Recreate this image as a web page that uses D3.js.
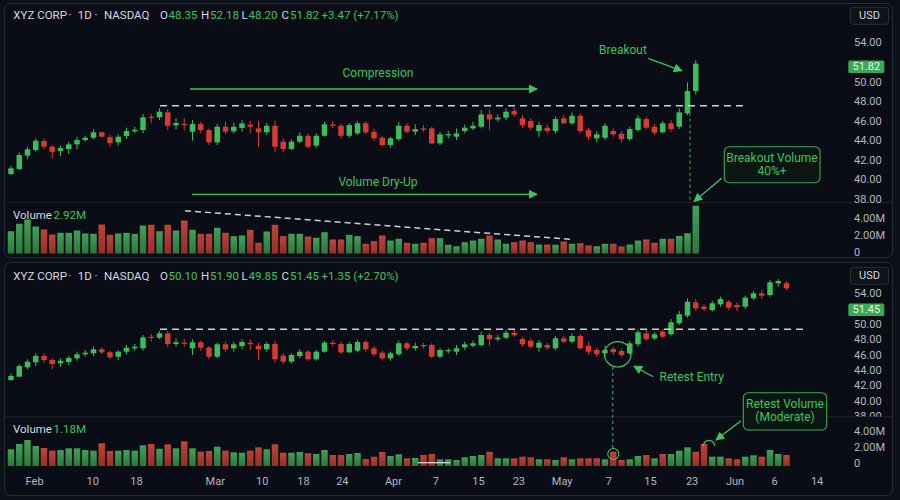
<!DOCTYPE html>
<html><head><meta charset="utf-8">
<script src="https://cdn.jsdelivr.net/npm/d3@7"></script>
<style>
body{margin:0;background:#0c1018;}
svg{display:block;font-family:Roboto,"Noto Sans",sans-serif;}
</style>
</head><body>
<svg id="c" width="900" height="500"></svg>
<script>
// ---------- DATA ----------
const topOpen  = [40.55,41.06,42.42,43.00,43.92,43.34,42.90,43.10,43.58,44.02,44.25,44.81,44.30,43.78,44.43,44.91,45.04,46.40,46.34,46.85,45.52,45.68,44.87,45.65,45.04,43.78,45.38,44.91,45.25,45.58,45.21,44.81,45.48,43.85,43.10,43.85,44.46,43.44,44.46,45.62,45.48,44.46,44.70,45.73,44.87,44.25,43.51,44.12,45.48,44.87,45.21,45.21,43.68,44.50,44.36,44.94,45.21,45.38,46.64,46.13,46.30,46.98,46.24,45.96,44.94,45.28,44.94,46.24,45.73,46.50,45.04,44.19,44.25,44.94,44.66,44.12,45.04,46.16,45.38,44.81,45.73,45.38,46.75,49.02];
const topHigh  = [41.40,42.76,43.33,44.19,44.19,43.51,43.44,43.85,44.36,44.43,45.11,44.87,44.56,44.60,45.28,45.38,46.67,46.67,47.26,47.19,46.24,46.24,46.06,45.89,45.21,45.65,45.89,45.79,46.06,46.00,46.00,45.79,46.00,44.19,44.09,44.81,44.70,44.70,45.89,45.96,45.73,45.73,45.96,45.96,45.21,44.46,44.36,45.89,45.73,45.62,45.55,45.38,44.87,44.94,45.21,45.62,45.89,47.08,47.08,46.64,47.26,47.32,46.57,46.24,45.89,45.62,46.40,46.57,46.85,46.75,45.28,44.94,45.73,45.21,44.94,45.38,46.57,46.40,45.62,45.96,46.06,47.26,49.91,52.18];
const topLow   = [40.44,40.95,42.05,42.82,43.07,42.15,42.39,42.59,43.07,43.85,44.09,44.29,43.34,43.44,44.12,44.70,44.70,45.72,46.06,45.04,45.11,45.04,43.95,44.70,43.51,43.51,44.60,44.70,44.87,44.70,43.27,44.53,42.76,42.76,43.00,43.68,43.17,43.23,44.36,45.21,44.19,44.25,44.53,44.60,43.92,43.34,43.23,43.92,44.70,44.53,44.81,43.58,43.51,44.19,44.02,44.70,45.04,45.21,45.04,45.89,46.06,46.40,45.28,45.04,44.36,44.70,44.70,45.62,45.55,44.70,44.02,43.78,44.02,44.36,43.78,43.92,44.87,45.14,44.53,44.70,44.87,45.14,46.57,48.69];
const topClose = [41.13,42.49,43.07,43.95,43.34,42.82,43.20,43.58,44.02,44.25,44.81,44.36,43.71,44.36,44.94,45.07,46.34,46.30,46.91,45.48,45.76,45.58,45.65,45.04,43.78,45.38,44.87,45.38,45.72,45.38,44.81,45.48,43.34,43.10,43.85,44.46,43.34,44.46,45.62,45.48,44.46,45.55,45.73,44.81,44.19,43.51,44.19,45.48,44.87,45.14,45.07,43.68,44.60,44.63,44.70,45.28,45.48,46.64,46.13,46.30,46.91,46.64,45.55,45.28,45.55,44.94,46.16,45.73,46.50,44.94,44.36,44.60,45.48,44.60,44.12,45.14,46.24,45.28,44.77,45.73,45.14,46.85,49.02,51.82];
const topVolume = [2.66,3.55,4.06,3.22,2.87,2.27,2.47,2.47,2.75,2.39,2.35,3.46,2.23,2.39,2.47,2.35,3.34,3.43,2.66,3.43,2.75,3.94,2.83,2.35,2.35,3.07,2.47,2.07,2.15,2.83,1.28,2.63,3.43,2.07,2.35,2.35,2.03,1.87,2.54,1.67,1.67,2.23,2.07,1.16,1.47,2.15,1.55,1.76,1.28,1.16,1.28,1.83,1.83,1.04,0.87,1.35,1.55,1.76,2.15,1.67,1.16,1.35,1.55,1.35,1.07,1.07,1.04,1.43,1.16,1.23,0.96,0.87,1.16,1.16,0.84,1.07,1.55,1.67,1.28,1.76,1.76,2.10,2.42,5.70];

const botOpen  = [42.69,43.12,44.34,44.99,45.81,45.29,44.86,45.03,45.51,46.03,46.16,46.68,46.29,45.72,46.37,46.81,46.81,48.32,48.19,48.76,47.37,47.54,46.81,47.59,46.89,45.72,47.33,46.81,47.11,47.54,47.15,46.68,47.37,45.85,45.07,45.81,46.37,45.38,46.37,47.54,47.37,46.29,46.50,47.63,46.81,46.24,45.51,46.03,47.46,46.81,47.24,47.24,45.72,46.46,46.37,46.94,47.15,47.24,48.54,47.98,48.19,48.84,48.02,47.80,46.89,47.24,46.81,48.11,47.67,48.41,47.15,46.59,46.16,46.72,46.46,46.16,47.33,48.76,48.11,48.97,48.63,50.06,51.05,52.79,52.22,51.79,52.53,52.87,52.44,52.22,53.31,53.96,53.74,55.26,55.26];
const botHigh  = [43.56,44.73,45.38,46.16,46.16,45.51,45.51,45.81,46.37,46.59,47.02,46.94,46.50,46.59,47.24,47.37,48.54,48.67,49.06,49.06,48.11,47.98,47.98,47.80,47.11,47.54,47.67,47.67,47.98,47.98,47.54,47.67,47.80,46.16,46.16,46.68,46.59,46.59,47.80,47.89,47.67,47.67,47.89,47.89,47.11,46.50,46.37,47.80,47.67,47.54,47.54,47.46,46.81,46.81,47.24,47.67,47.80,48.97,48.84,48.54,49.19,49.19,48.32,48.11,47.89,47.54,48.41,48.41,48.76,48.67,47.67,46.89,47.15,47.02,46.72,47.76,49.19,49.19,48.89,49.32,50.62,51.66,53.31,53.22,52.53,52.96,53.52,53.09,52.79,53.65,54.26,54.39,55.69,55.82,55.56];
const botLow   = [42.60,43.04,44.08,44.51,44.94,44.08,44.42,44.64,45.20,45.72,45.81,46.07,45.38,45.29,46.03,46.50,46.50,47.67,48.00,46.94,47.02,47.02,45.94,46.50,45.38,45.51,46.37,46.37,46.68,46.59,45.29,46.37,44.94,44.77,44.86,45.51,45.20,45.20,46.24,47.02,46.07,46.16,46.29,46.37,45.72,45.29,45.20,45.81,46.50,46.50,46.81,45.51,45.51,46.16,45.94,46.59,46.94,47.02,47.11,47.67,47.98,48.32,47.02,46.81,46.37,46.59,46.59,47.46,47.46,46.59,46.03,45.72,45.72,45.94,45.72,45.94,47.02,47.76,47.89,48.11,48.45,49.84,50.79,51.66,51.66,51.57,52.22,51.79,51.66,51.92,53.09,53.22,53.52,54.82,54.39];
const botClose = [43.21,44.51,45.07,45.81,45.29,44.77,45.20,45.55,46.03,46.24,46.68,46.29,45.64,46.37,46.89,47.02,48.24,48.19,48.76,47.37,47.59,47.41,47.59,46.89,45.72,47.33,46.68,47.33,47.63,47.33,46.68,47.37,45.38,45.07,45.94,46.37,45.38,46.37,47.54,47.37,46.29,47.37,47.63,46.68,46.03,45.51,46.16,47.46,46.81,47.11,47.07,45.72,46.59,46.59,46.81,47.33,47.46,48.54,48.02,48.19,48.84,48.50,47.33,47.02,47.54,46.89,48.11,47.67,48.41,46.81,46.37,46.03,46.59,46.29,45.94,47.46,48.89,48.02,48.63,48.32,50.19,51.23,52.87,52.01,51.92,52.66,53.22,52.09,52.14,53.39,53.96,53.65,55.39,55.56,54.61];
const botVolume = [2.05,2.70,3.19,2.45,2.21,1.88,1.96,2.17,2.17,1.96,1.88,2.79,1.84,1.88,1.96,1.88,2.54,2.70,2.12,2.66,2.17,3.03,2.17,1.75,1.84,2.37,1.88,1.68,1.63,1.88,2.29,2.05,2.66,1.63,1.63,1.72,1.56,1.47,1.96,1.35,1.35,1.47,1.60,0.86,1.14,1.72,1.23,1.44,0.94,0.98,1.35,1.47,0.82,0.82,0.74,1.07,1.23,1.35,1.75,0.94,0.94,0.94,1.14,1.07,0.82,0.82,0.74,1.07,0.82,0.94,0.94,0.94,0.82,1.75,0.74,0.82,1.23,1.35,0.94,1.47,1.47,1.88,2.29,1.75,2.70,1.14,1.14,0.94,0.82,1.14,1.31,1.14,1.96,1.47,1.35];

const dateLabels = ["Feb","10","18","Mar","10","18","24","Apr","7","15","23","May","7","15","23","Jun","6","14"];
const dateIdx    = [2.8,9.85,15.15,24.7,30.4,35.4,40.1,46.3,51.45,56.6,61.5,66.75,72.4,77.45,82.5,87.7,92.5,97.65];
const topPriceTicks = [54,50,48,46,44,42,40,38];
const botPriceTicks = [54,50,48,46,44,42,40,38];
const volTicks = [0,2,4];
const headerNames = ["XYZ CORP","·","1D","·","NASDAQ"];
const topHeaderVals = ["48.35","52.18","48.20","51.82","+3.47 (+7.17%)"];
const botHeaderVals = ["50.10","51.90","49.85","51.45","+1.35 (+2.70%)"];
const topVolLabel = "2.92M", botVolLabel = "1.18M";
const topLast = "51.82", botLast = "51.45";
const topResistance = 47.52, botResistance = 49.28;

// ---------- SETUP ----------
const svg = d3.select("#c");
const GREEN = "#3dbd5a", RED = "#d53b31", TXT = "#d6d9e0", AX = "#b4b7c0", ANN = "#3fc45d";
const xS = d3.scaleLinear().domain([0, 94]).range([11, 786.5]);
const yTop = d3.scaleLinear().domain([38, 54]).range([199, 42.3]);
const vTop = d3.scaleLinear().domain([0, 4]).range([253.5, 220]);
const yBot = d3.scaleLinear().domain([40, 54]).range([400.7, 293]);
const vBot = d3.scaleLinear().domain([0, 4]).range([466, 433.4]);

const defs = svg.append("defs");
function grad(id, c1, c2){
  const g = defs.append("linearGradient").attr("id", id).attr("x1",0).attr("y1",0).attr("x2",0).attr("y2",1);
  g.append("stop").attr("offset","0%").attr("stop-color",c1);
  g.append("stop").attr("offset","100%").attr("stop-color",c2);
}
grad("vg", "#45a85a", "#2c7d3e");
grad("vr", "#c8473b", "#9c3028");
defs.append("marker").attr("id","ah").attr("viewBox","0 0 10 10").attr("refX",9).attr("refY",5)
  .attr("markerWidth",9).attr("markerHeight",9).attr("markerUnits","userSpaceOnUse").attr("orient","auto")
  .append("path").attr("d","M0,0 L10,5 L0,10 z").attr("fill",ANN);
function clip(id, x, y, w, h){ defs.append("clipPath").attr("id",id).append("rect").attr("x",x).attr("y",y).attr("width",w).attr("height",h); }
clip("cpTop", 5, 26, 840, 177);
clip("cvTop", 5, 203, 840, 53);
clip("cpBot", 5, 265, 840, 151.5);
clip("cvBot", 5, 417, 840, 50);
// axis clips are in the axis group's local coords (group translated by x=848)
clip("caTop", -3, 26, 48, 177);
clip("caBot", -3, 288, 48, 128.5);

// panels
svg.append("rect").attr("x",4.5).attr("y",3.5).attr("width",888).attr("height",254).attr("rx",6)
  .attr("fill","#0a0d15").attr("stroke","#262b36");
svg.append("rect").attr("x",4.5).attr("y",262.5).attr("width",888).attr("height",233).attr("rx",6)
  .attr("fill","#0a0d15").attr("stroke","#262b36");
svg.append("line").attr("x1",5).attr("x2",892).attr("y1",202.7).attr("y2",202.7).attr("stroke","#1d222d");
svg.append("line").attr("x1",5).attr("x2",892).attr("y1",416.7).attr("y2",416.7).attr("stroke","#1d222d");

function drawCandles(o,h,l,c,yS,clipId){
  const g = svg.append("g").attr("clip-path",`url(#${clipId})`);
  const idx = d3.range(o.length);
  g.selectAll("line.w").data(idx).join("line")
    .attr("x1",i=>xS(i)).attr("x2",i=>xS(i)).attr("y1",i=>yS(h[i])).attr("y2",i=>yS(l[i]))
    .attr("stroke",i=>c[i]>=o[i]?GREEN:RED).attr("stroke-width",1);
  g.selectAll("rect.b").data(idx).join("rect")
    .attr("x",i=>xS(i)-2.75).attr("width",5.5)
    .attr("y",i=>yS(Math.max(o[i],c[i])))
    .attr("height",i=>Math.max(1.2, Math.abs(yS(o[i])-yS(c[i]))))
    .attr("fill",i=>c[i]>=o[i]?GREEN:RED);
}
function drawVolume(v,o,c,vS,clipId){
  const g = svg.append("g").attr("clip-path",`url(#${clipId})`);
  g.selectAll("rect").data(d3.range(v.length)).join("rect")
    .attr("x",i=>xS(i)-3.25).attr("width",6.5)
    .attr("y",i=>vS(v[i])).attr("height",i=>vS(0)-vS(v[i]))
    .attr("fill",i=>c[i]>=o[i]?"url(#vg)":"url(#vr)").attr("opacity",0.95);
}
function axis(scale, ticks, fmt, dy, clipId){
  const g = svg.append("g").attr("transform",`translate(848,${dy})`);
  if (clipId) g.attr("clip-path",`url(#${clipId})`);
  g.call(d3.axisRight(scale).tickValues(ticks).tickFormat(fmt).tickSize(0).tickPadding(6));
  g.select(".domain").remove();
  g.selectAll("text").attr("fill",AX).attr("font-size",11).attr("font-family","Roboto, sans-serif");
}
function header(y, vals){
  const t = svg.append("text").attr("y",y).attr("font-size",11.5).attr("fill",TXT).attr("dominant-baseline","middle");
  const nx = [13.3,68.5,77.7,94.5,104];
  headerNames.forEach((s,i)=> t.append("tspan").attr("x",nx[i]).text(s));
  const lx = [160,201,241.5,281.5], vx = [168.5,210,248.5,290];
  ["O","H","L","C"].forEach((k,i)=>{
    t.append("tspan").attr("x",lx[i]).attr("fill",TXT).text(k);
    t.append("tspan").attr("x",vx[i]).attr("fill",ANN).text(vals[i]);
  });
  t.append("tspan").attr("x",321.5).attr("fill",ANN).text(vals[4]);
}
function usd(y){
  svg.append("rect").attr("x",850.5).attr("y",y).attr("width",38).attr("height",17).attr("rx",2.5)
    .attr("fill","#0e1219").attr("stroke","#2a2f3a");
  svg.append("text").attr("x",869.5).attr("y",y+8.7).attr("text-anchor","middle").attr("dominant-baseline","middle")
    .attr("font-size",11).attr("fill",TXT).text("USD");
}
function badge(yc, label){
  svg.append("rect").attr("x",848.3).attr("y",yc-6.3).attr("width",36).attr("height",12.6).attr("rx",1.5).attr("fill","#3aa955");
  svg.append("text").attr("x",866.3).attr("y",yc+0.5).attr("text-anchor","middle").attr("dominant-baseline","middle")
    .attr("font-size",11).attr("fill","#e6f7e9").text(label);
}
function volLabel(y, val){
  const t = svg.append("text").attr("y",y).attr("font-size",11.5).attr("dominant-baseline","middle");
  t.append("tspan").attr("x",13).attr("fill",TXT).text("Volume");
  t.append("tspan").attr("x",53.5).attr("fill",ANN).text(val);
}
function arrow(x1,y1,x2,y2,w){
  svg.append("line").attr("x1",x1).attr("y1",y1).attr("x2",x2).attr("y2",y2)
    .attr("stroke",ANN).attr("stroke-width",w||1.3).attr("marker-end","url(#ah)");
}
function annText(x,y,s,anchor,size){
  svg.append("text").attr("x",x).attr("y",y).attr("text-anchor",anchor||"middle").attr("dominant-baseline","middle")
    .attr("font-size",size||12).attr("fill",ANN).text(s);
}
function dashed(x1,y1,x2,y2,color,dash,w){
  svg.append("line").attr("x1",x1).attr("y1",y1).attr("x2",x2).attr("y2",y2)
    .attr("stroke",color).attr("stroke-dasharray",dash).attr("stroke-width",w);
}
const volFmt = d => d===0 ? "0" : d.toFixed(2)+"M";

// ---------- TOP PANEL ----------
header(16, topHeaderVals);
usd(7.3);
drawVolume(topVolume, topOpen, topClose, vTop, "cvTop");
drawCandles(topOpen, topHigh, topLow, topClose, yTop, "cpTop");
axis(yTop, topPriceTicks, d3.format(".2f"), 0, "caTop");
axis(vTop, volTicks, volFmt, -1.7, null);
badge(66.7, topLast);
volLabel(215.7, topVolLabel);

dashed(xS(18.06), yTop(topResistance), xS(88.9), yTop(topResistance), "#cdd1d8", "7,5", 1.5);
annText(378, 74, "Compression");
arrow(190, 89, 537, 89);
annText(378, 183.3, "Volume Dry-Up");
arrow(192, 194.3, 537, 194.3);
annText(623, 51, "Breakout");
arrow(648.3, 58.3, 682, 70.8, 1.3);
dashed(690, yTop(topResistance)+1, 690, 203, "#2f9a49", "3,3", 1.2);
svg.append("rect").attr("x",724.3).attr("y",146.7).attr("width",95.7).attr("height",36).attr("rx",5)
  .attr("fill","#0b1511").attr("stroke","#3aa955").attr("stroke-width",1.1);
annText(772, 158.5, "Breakout Volume");
annText(772, 172.3, "40%+");
arrow(721.7, 178.3, 694, 201.5);
dashed(185, 210.7, 570, 239.3, "#cdd1d8", "6,4", 1.5);

// ---------- BOTTOM PANEL ----------
header(277.3, botHeaderVals);
usd(267.3);
drawVolume(botVolume, botOpen, botClose, vBot, "cvBot");
drawCandles(botOpen, botHigh, botLow, botClose, yBot, "cpBot");
axis(yBot, botPriceTicks, d3.format(".2f"), 0, "caBot");
axis(vBot, volTicks, volFmt, -2.7, null);
badge(309.7, botLast);
volLabel(430, botVolLabel);

dashed(xS(18.06), yBot(botResistance), xS(96.2), yBot(botResistance), "#cdd1d8", "7,5", 1.5);
svg.append("ellipse").attr("cx",617.7).attr("cy",354.3).attr("rx",13.3).attr("ry",12.7)
  .attr("fill","none").attr("stroke",ANN).attr("stroke-width",1.2);
arrow(653.3, 376.7, 634, 366.2);
annText(659.5, 378.3, "Retest Entry", "start");
dashed(612.7, 367, 612.7, 449, "#2f9a49", "3,3", 1.2);
svg.append("circle").attr("cx",613.3).attr("cy",454).attr("r",5.5).attr("fill","none").attr("stroke",ANN).attr("stroke-width",1.1);
svg.append("rect").attr("x",743.3).attr("y",392.7).attr("width",83.4).attr("height",37.3).attr("rx",5)
  .attr("fill","#0b1511").attr("stroke","#3aa955").attr("stroke-width",1.1);
annText(785, 404.5, "Retest Volume");
annText(785, 418.2, "(Moderate)");
arrow(741, 420.7, 716, 440);
svg.append("path").attr("d","M703.3,446 A5.7,5.7 0 0 1 714.7,446").attr("fill","none").attr("stroke",ANN).attr("stroke-width",1.2);
svg.append("line").attr("x1",418).attr("x2",450).attr("y1",462.7).attr("y2",462.7).attr("stroke","#cfd3da").attr("stroke-width",1.3);

// date axis
const gx = svg.append("g").attr("transform","translate(0,474)")
  .call(d3.axisBottom(xS).tickValues(dateIdx).tickFormat((d,i)=>dateLabels[i]).tickSize(0).tickPadding(3));
gx.select(".domain").remove();
gx.selectAll("text").attr("fill",AX).attr("font-size",11).attr("font-family","Roboto, sans-serif");
</script>
</body></html>
